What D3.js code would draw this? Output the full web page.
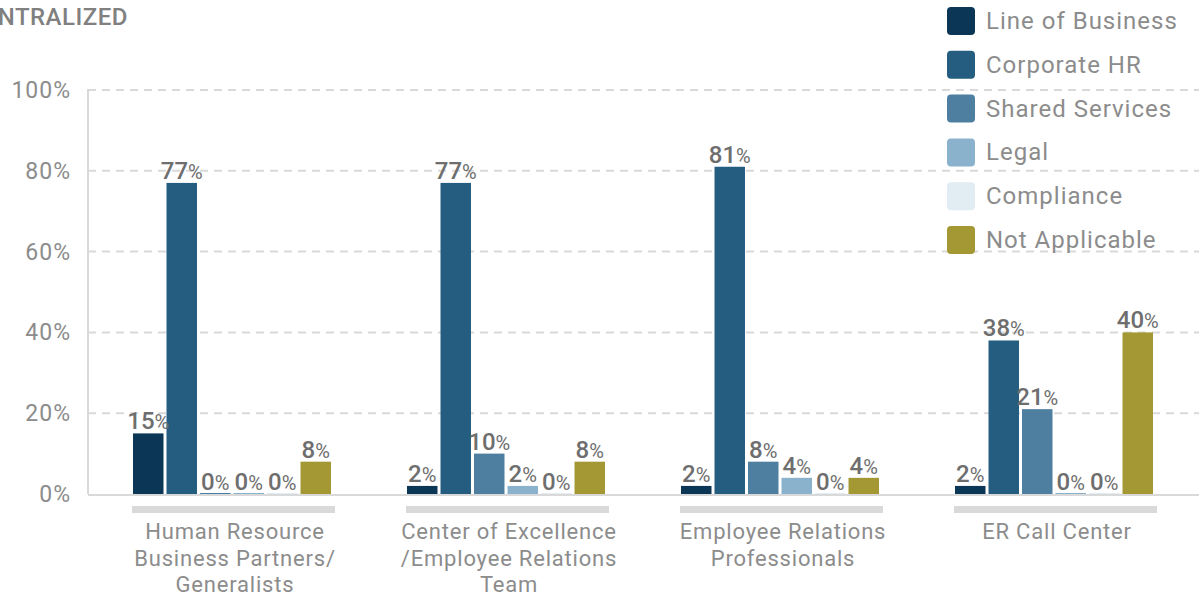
<!DOCTYPE html>
<meta charset="utf-8">
<script src="https://d3js.org/d3.v7.min.js"></script>
<style>
  body { margin: 0; background: #fff; }
  svg text { font-family: Roboto, "Noto Sans", sans-serif; }
</style>
<div id="chart"></div>
<script>
// data
var categories = [
  ["Human Resource", "Business Partners/", "Generalists"],
  ["Center of Excellence", "/Employee Relations", "Team"],
  ["Employee Relations", "Professionals"],
  ["ER Call Center"]
];
var series = ["Line of Business", "Corporate HR", "Shared Services", "Legal", "Compliance", "Not Applicable"];
var colors = ["#0b3655", "#255d80", "#4e7fa1", "#8ab2cd", "#e1ecf3", "#a39834"];
var lineOfBusiness  = [15, 2, 2, 2];
var corporateHR     = [77, 77, 81, 38];
var sharedServices  = [0, 10, 8, 21];
var legal           = [0, 2, 4, 0];
var compliance      = [0, 0, 0, 0];
var notApplicable   = [8, 8, 4, 40];
var yTicks = [0, 20, 40, 60, 80, 100];

var values = [lineOfBusiness, corporateHR, sharedServices, legal, compliance, notApplicable];

var width = 1199, height = 596;
var svg = d3.select("#chart").append("svg").attr("width", width).attr("height", height);

var y = d3.scaleLinear().domain([0, 100]).range([494, 90]);
var x0 = d3.scaleBand().domain(d3.range(categories.length)).range([94, 1190]);
var x1 = d3.scaleBand().domain(series).range([-98, 100]).paddingInner(0.09);

// title (cut off at the left edge)
svg.append("text").attr("x", 128).attr("y", 25).attr("text-anchor", "end")
  .style("font-size", "24px").style("font-weight", 500).style("fill", "#808080")
  .style("letter-spacing", "0.5px")
  .text("DECENTRALIZED");

// grid
svg.append("g").selectAll("line").data(yTicks.filter(function(d){ return d > 0; })).enter()
  .append("line")
  .attr("x1", 88).attr("x2", width)
  .attr("y1", function(d){ return y(d); }).attr("y2", function(d){ return y(d); })
  .style("stroke", "#d9d9d9").style("stroke-width", 2).style("stroke-dasharray", "8,6");

svg.append("line").attr("x1", 88).attr("x2", 88).attr("y1", y(100) - 1).attr("y2", y(0))
  .style("stroke", "#d9d9d9").style("stroke-width", 2);

// y labels
svg.append("g").selectAll("text").data(yTicks).enter().append("text")
  .attr("x", 71).attr("y", function(d){ return y(d) + 8; })
  .attr("text-anchor", "end")
  .style("font-size", "23px").style("fill", "#8c8c8c").style("letter-spacing", "1px")
  .text(function(d){ return d + "%"; });

// bars
var groups = svg.append("g").selectAll("g").data(categories).enter().append("g")
  .attr("transform", function(d, i){ return "translate(" + (x0(i) + x0.bandwidth() / 2) + ",0)"; });

series.forEach(function(s, si) {
  groups.append("rect")
    .attr("x", x1(s))
    .attr("width", x1.bandwidth())
    .attr("y", function(d, i){ return Math.min(y(values[si][i]), y(0) - 1); })
    .attr("height", function(d, i){ return Math.max(y(0) - y(values[si][i]), 1); })
    .style("fill", colors[si]);
});

// baseline
svg.append("line").attr("x1", 88).attr("x2", width).attr("y1", y(0) + 1).attr("y2", y(0) + 1)
  .style("stroke", "#d9d9d9").style("stroke-width", 2);

// value labels
series.forEach(function(s, si) {
  var t = groups.append("text")
    .attr("x", x1(s) + x1.bandwidth() / 2)
    .attr("y", function(d, i){ return y(values[si][i]) - 4; })
    .attr("text-anchor", "middle")
    .style("fill", "#6e6e6e");
  t.append("tspan").style("font-size", "24px").style("font-weight", 500)
    .text(function(d, i){ return values[si][i]; });
  t.append("tspan").style("font-size", "20px")
    .text("%");
});

// category underline + labels
groups.append("rect")
  .attr("x", x1(series[0]) - 1).attr("y", 506)
  .attr("width", x1(series[5]) + x1.bandwidth() - x1(series[0]) + 5).attr("height", 7)
  .style("fill", "#d9d9d9");

groups.append("text")
  .attr("text-anchor", "middle")
  .style("font-size", "22px").style("fill", "#8c8c8c").style("letter-spacing", "0.8px")
  .selectAll("tspan").data(function(d){ return d; }).enter().append("tspan")
  .attr("x", 4).attr("y", function(d, i){ return 539 + i * 26.5; })
  .text(function(d){ return d; });

// legend
var legend = svg.append("g").selectAll("g").data(series).enter().append("g")
  .attr("transform", function(d, i){ return "translate(947," + (7 + i * 43.8) + ")"; });
legend.append("rect").attr("width", 28).attr("height", 28).attr("rx", 4)
  .style("fill", function(d, i){ return colors[i]; });
legend.append("text").attr("x", 39).attr("y", 22)
  .style("font-size", "24px").style("fill", "#8c8c8c").style("letter-spacing", "1px")
  .text(function(d){ return d; });
</script>
